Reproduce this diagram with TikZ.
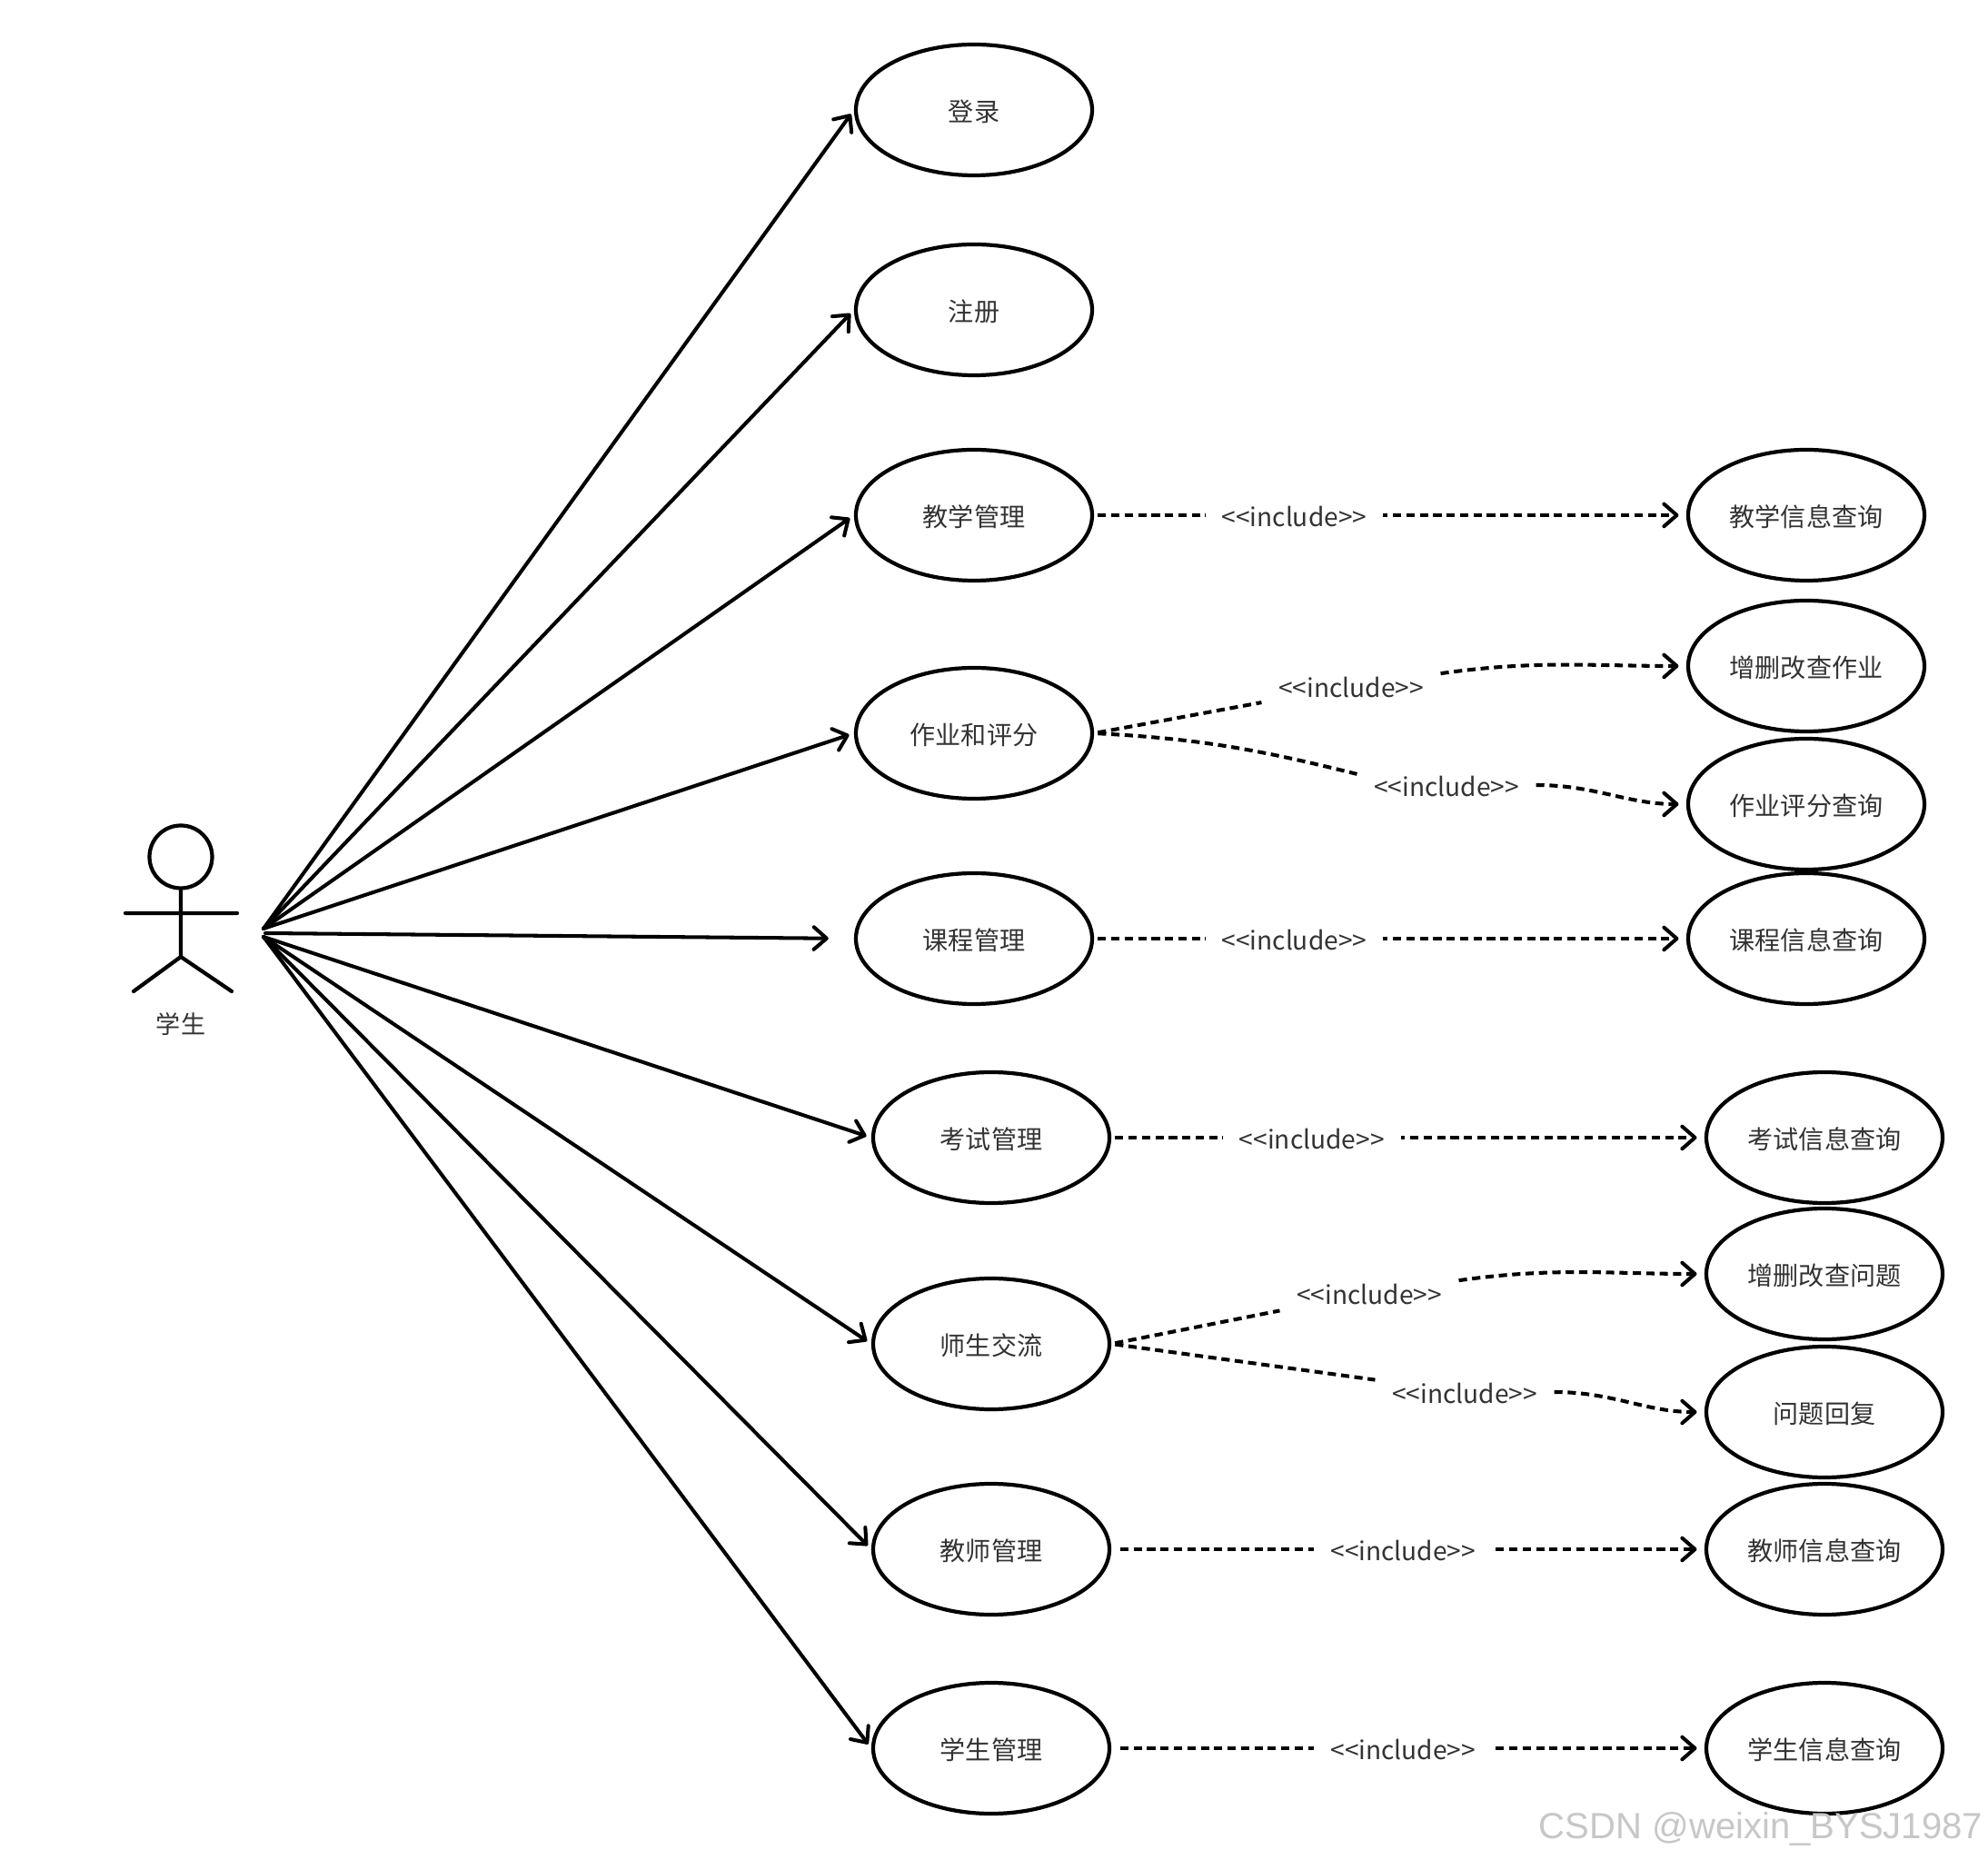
\documentclass[tikz,border=0pt]{standalone}
\usepackage{fontspec}
\newfontfamily\cjkfont{Noto Sans CJK SC}
\newfontfamily\wmfont{Liberation Sans}
\usetikzlibrary{arrows.meta,shapes.geometric}
\tikzset{
usecase/.style={ellipse,draw,line width=1.2pt,minimum width=2.6cm,minimum height=1.44cm,inner sep=0pt,font=\cjkfont\fontsize{8}{10}\selectfont,text=black!80,text height=8pt,text depth=1pt},
inc/.style={fill=white,inner xsep=.18cm,inner ysep=1pt,font=\cjkfont\fontsize{8}{10}\selectfont,text=black!80,text height=8pt,text depth=1pt},
assoc/.style={->,line width=1.15pt,line cap=round,shorten >=1.6pt},
dep/.style={line width=1.15pt,dash pattern=on 2.6pt off 1.6pt,shorten <=1.2pt},
deparr/.style={dep,->,shorten >=2.4pt},
>={Straight Barb[length=4pt,width=7pt,round]}
}
\begin{document}
\begin{tikzpicture}
\useasboundingbox(0,0)rectangle(21.88,20.46);
\node[circle,draw,line width=1.2pt,minimum size=.69cm,inner sep=0pt](head)at(1.99,11.03){};
\coordinate(hip)at(1.99,9.93);
\coordinate(armL)at(1.38,10.41);
\coordinate(armR)at(2.61,10.41);
\coordinate(legL)at(1.47,9.55);
\coordinate(legR)at(2.55,9.55);
\draw[line width=1.2pt,line cap=round](head.south)--(hip)--(legL)(hip)--(legR)(armL)--(armR);
\node[font=\cjkfont\fontsize{7.7}{10}\selectfont,text=black!80](student)at(1.99,9.19){学生};
\coordinate(fanU)at(2.90,10.24);
\coordinate(fanM)at(2.92,10.19);
\coordinate(fanL)at(2.90,10.15);

\node[usecase](login)at(10.72,19.25){登录};
\node[usecase](reg)at(10.72,17.05){注册};
\node[usecase](teach)at(10.72,14.79){教学管理};
\node[usecase](work)at(10.72,12.39){作业和评分};
\node[usecase](course)at(10.72,10.13){课程管理};
\node[usecase](exam)at(10.91,7.94){考试管理};
\node[usecase](talk)at(10.91,5.67){师生交流};
\node[usecase](tmgr)at(10.91,3.41){教师管理};
\node[usecase](smgr)at(10.91,1.22){学生管理};

\node[usecase](teachQ)at(19.88,14.79){教学信息查询};
\node[usecase](workE)at(19.88,13.13){增删改查作业};
\node[usecase](workQ)at(19.88,11.61){作业评分查询};
\node[usecase](courseQ)at(19.88,10.13){课程信息查询};
\node[usecase](examQ)at(20.08,7.94){考试信息查询};
\node[usecase](talkE)at(20.08,6.44){增删改查问题};
\node[usecase](talkR)at(20.08,4.92){问题回复};
\node[usecase](tmgrQ)at(20.08,3.41){教师信息查询};
\node[usecase](smgrQ)at(20.08,1.22){学生信息查询};

\draw[assoc](fanU)--(login.west);
\draw[assoc](fanU)--(reg.west);
\draw[assoc](fanU)--(teach.west);
\draw[assoc](fanU)--(work.west);
\draw[assoc,shorten >=8pt](fanM)--(course.west);
\draw[assoc](fanL)--(exam.west);
\draw[assoc](fanL)--(talk.west);
\draw[assoc](fanL)--(tmgr.west);
\draw[assoc](fanL)--(smgr.west);

\draw[deparr](teach.east)--node[inc,pos=.338](incA){<<include>>}(teachQ.west);
\draw[deparr](course.east)--node[inc,pos=.338](incD){<<include>>}(courseQ.west);
\draw[deparr](exam.east)--node[inc,pos=.338](incE){<<include>>}(examQ.west);
\draw[deparr,shorten <=2.8pt](tmgr.east)--node[inc,pos=.492](incH){<<include>>}(tmgrQ.west);
\draw[deparr,shorten <=2.8pt](smgr.east)--node[inc,pos=.492](incI){<<include>>}(smgrQ.west);

\node[inc](incB)at(14.87,12.91){<<include>>};
\node[inc](incC)at(15.92,11.82){<<include>>};
\node[inc](incF)at(15.07,6.23){<<include>>};
\node[inc](incG)at(16.12,5.14){<<include>>};
\draw[dep](work.east)--(incB);
\draw[deparr,shorten <=0pt](incB)to[out=8,in=180](workE.west);
\draw[dep](work.east)to[out=-3,in=166](incC.173);
\draw[deparr,shorten <=0pt](incC)to[out=0,in=180](workQ.west);
\draw[dep](talk.east)--(incF);
\draw[deparr,shorten <=0pt](incF)to[out=8,in=180](talkE.west);
\draw[dep](talk.east)--(incG);
\draw[deparr,shorten <=0pt](incG)to[out=0,in=180](talkR.west);

\node[font=\wmfont\fontsize{11.4}{14}\selectfont,text=black!22,inner sep=0pt](mark)at(19.38,.33){CSDN @weixin\_BYSJ1987};
\end{tikzpicture}
\end{document}
